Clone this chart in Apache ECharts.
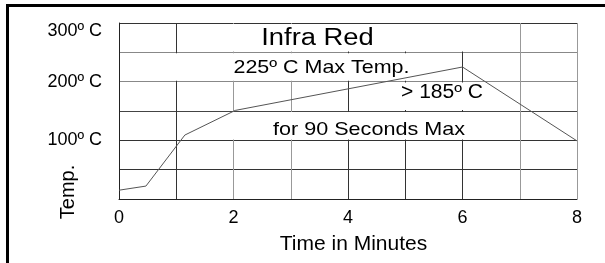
<!DOCTYPE html>
<html>
<head>
<meta charset="utf-8">
<script src="https://cdn.jsdelivr.net/npm/echarts@6/dist/echarts.min.js"></script>
<style>html,body{margin:0;padding:0;background:#fff}#c{width:605px;height:263px}</style>
</head>
<body>
<div id="c"></div>
<script>
// Data
const timeMin = [0, 0.47, 1.15, 2.03, 6.0, 8.0];
const tempC = [15, 22, 109, 151, 225, 99];
// Tick labels
const xTickValues = [0, 2, 4, 6, 8];
const yTickValues = [100, 200, 300];
const yTickTexts = ['100º C', '200º C', '300º C'];
// Annotation texts
const notes = ['Infra Red', '225º C Max Temp.', '> 185º C', 'for 90 Seconds Max'];
const xTitle = 'Time in Minutes';
const yTitle = 'Temp.';

const FONT = '"Liberation Sans", Arial, sans-serif';
const chart = echarts.init(document.getElementById('c'), null, {renderer: 'canvas'});

function txt(text, x, y, size, sx, rot) {
  return {
    type: 'text', x: x, y: y, scaleX: sx || 1, rotation: rot || 0, z: 20, silent: true,
    style: {
      text: text, fill: '#000', fontSize: size, fontFamily: FONT,
      align: 'center', verticalAlign: 'middle', textAlign: 'center', textVerticalAlign: 'middle'
    }
  };
}

const option = {
  animation: false,
  backgroundColor: '#fff',
  grid: {left: 119, right: 28, top: 23, bottom: 64},
  xAxis: {
    type: 'value', min: 0, max: 8, interval: 1,
    axisLine: {show: true, lineStyle: {color: '#222', width: 1}},
    axisTick: {show: false},
    axisLabel: {
      margin: 10, fontSize: 18, fontFamily: FONT, color: '#000',
      formatter: v => xTickValues.indexOf(v) >= 0 ? String(v) : ''
    },
    splitLine: {show: true, lineStyle: {width: 1, color: ['#222', '#333', '#999', '#999', '#333', '#333', '#333', '#999', '#999']}},
    name: xTitle, nameLocation: 'middle', nameGap: 35,
    nameTextStyle: {fontSize: 21, fontFamily: FONT, color: '#000', padding: [0, 0, 0, 11]}
  },
  yAxis: {
    type: 'value', min: 0, max: 300, interval: 50,
    axisLine: {show: true, lineStyle: {color: '#222', width: 1}},
    axisTick: {show: false},
    axisLabel: {
      margin: 17, fontSize: 18, fontFamily: FONT, color: '#000',
      formatter: v => {
        const i = yTickValues.indexOf(v);
        if (i < 0) return '';
        return v === 300 ? '{top|' + yTickTexts[i] + '}' : yTickTexts[i];
      },
      rich: {top: {fontSize: 18, fontFamily: FONT, color: '#000', padding: [17, 0, 0, 0]}}
    },
    splitLine: {show: true, lineStyle: {width: 1, color: ['#333', '#333', '#333', '#444', '#888', '#888', '#333']}}
  },
  series: [
    {
      type: 'line', data: [], z: 1, silent: true,
      markArea: {
        silent: true,
        itemStyle: {color: '#fff', opacity: 1, borderWidth: 0},
        label: {show: false},
        data: [
          [{xAxis: 1.05, yAxis: 251.5}, {xAxis: 6.95, yAxis: 298.5}],
          [{xAxis: 0.05, yAxis: 201.5}, {xAxis: 5.95, yAxis: 248.5}],
          [{xAxis: 4.05, yAxis: 151.5}, {xAxis: 6.95, yAxis: 198.5}],
          [{xAxis: 1.05, yAxis: 101.5}, {xAxis: 6.95, yAxis: 148.5}]
        ]
      }
    },
    {
      type: 'line', z: 5, symbol: 'none', silent: true,
      data: timeMin.map((t, i) => [t, tempC[i]]),
      lineStyle: {color: '#555', width: 1}
    }
  ],
  graphic: [
    {type: 'rect', shape: {x: 6, y: 4, width: 599, height: 3}, style: {fill: '#000'}, z: 30, silent: true},
    {type: 'rect', shape: {x: 6, y: 4, width: 3, height: 259}, style: {fill: '#000'}, z: 30, silent: true},
    txt(notes[0], 317.5, 38.5, 23, 1.19),
    txt(notes[1], 321.5, 68.3, 18.5, 1.16),
    txt(notes[2], 442, 93, 19.5, 1.08),
    txt(notes[3], 369, 130.3, 17.7, 1.22),
    txt(yTitle, 68, 192, 20, 1, Math.PI / 2)
  ]
};
chart.setOption(option);
</script>
</body>
</html>
